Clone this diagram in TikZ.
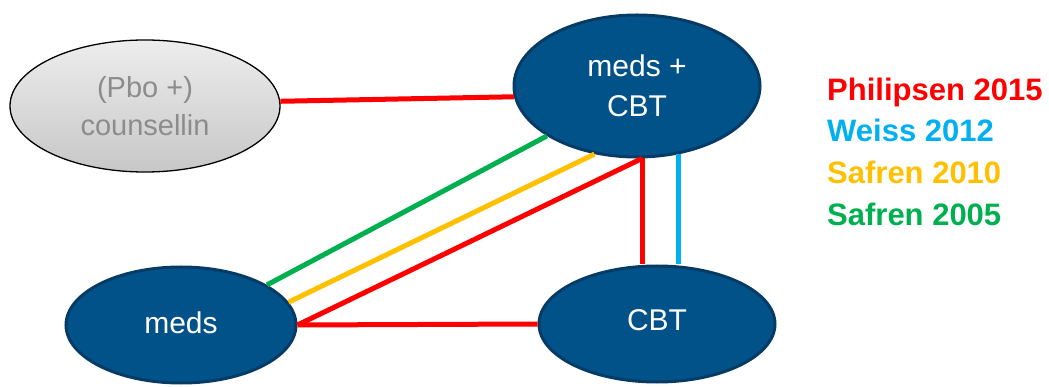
\documentclass[tikz,border=0pt]{standalone}
\usepackage{fontspec}
\setmainfont{Liberation Sans}
\usetikzlibrary{shapes.geometric}
\definecolor{navy}{HTML}{02528A}
\definecolor{navyedge}{HTML}{063B66}
\definecolor{cred}{HTML}{FF0000}
\definecolor{cblue}{HTML}{00B0F0}
\definecolor{cyellow}{HTML}{FFC000}
\definecolor{cgreen}{HTML}{00B050}
\definecolor{greytext}{HTML}{8C8C8C}
\tikzset{
  arm/.style={ellipse, draw=navyedge, line width=3pt, fill=navy, text=white,
    inner sep=0pt, align=center, font=\fontsize{30}{40}\selectfont},
  placebo/.style={ellipse, draw=black, line width=1.3pt,
    top color=black!7, bottom color=black!22, text=greytext,
    inner sep=0pt, align=center, font=\fontsize{29}{38}\selectfont},
  link/.style={line width=5pt},
  legendtext/.style={anchor=base west, inner sep=0pt,
    font=\fontsize{31}{37}\selectfont\bfseries}
}
\begin{document}
\begin{tikzpicture}[x=1pt,y=-1pt]
\useasboundingbox (0,0) rectangle (1049,387);

% treatment arms
\node[placebo, minimum width=270pt, minimum height=132pt] (pbo) at (145,106) {(Pbo +)\\counsellin};
\node[arm, minimum width=246pt, minimum height=142pt] (mc) at (637,86) {meds +\\CBT};
\node[arm, minimum width=230pt, minimum height=116pt] (meds) at (181,325) {\raisebox{5pt}{meds}};
\node[arm, minimum width=236pt, minimum height=116pt] (cbt) at (657,324) {\raisebox{7pt}{CBT}};

% comparisons per trial
\draw[link, cred] (pbo.2.5) -- (mc.185.5);
\draw[link, cgreen] (mc.209.8) -- (meds.25.7);
\draw[link, cyellow] (mc.238.2) -- (meds.12.5);
\draw[link, cred] (mc.274.8) -- (meds.east);
\draw[link, cred] (meds.east) -- (cbt.west);
\draw[link, cred] (mc.274.8) -- (mc.274.8 |- cbt.north);
\draw[link, cblue] (mc.301.9) -- (mc.301.9 |- cbt.north);

% legend
\node[legendtext, text=cred] (l1) at (827,101) {Philipsen 2015};
\node[legendtext, text=cblue] (l2) at (827,142) {Weiss 2012};
\node[legendtext, text=cyellow] (l3) at (827,184) {Safren 2010};
\node[legendtext, text=cgreen] (l4) at (827,226) {Safren 2005};
\end{tikzpicture}
\end{document}
